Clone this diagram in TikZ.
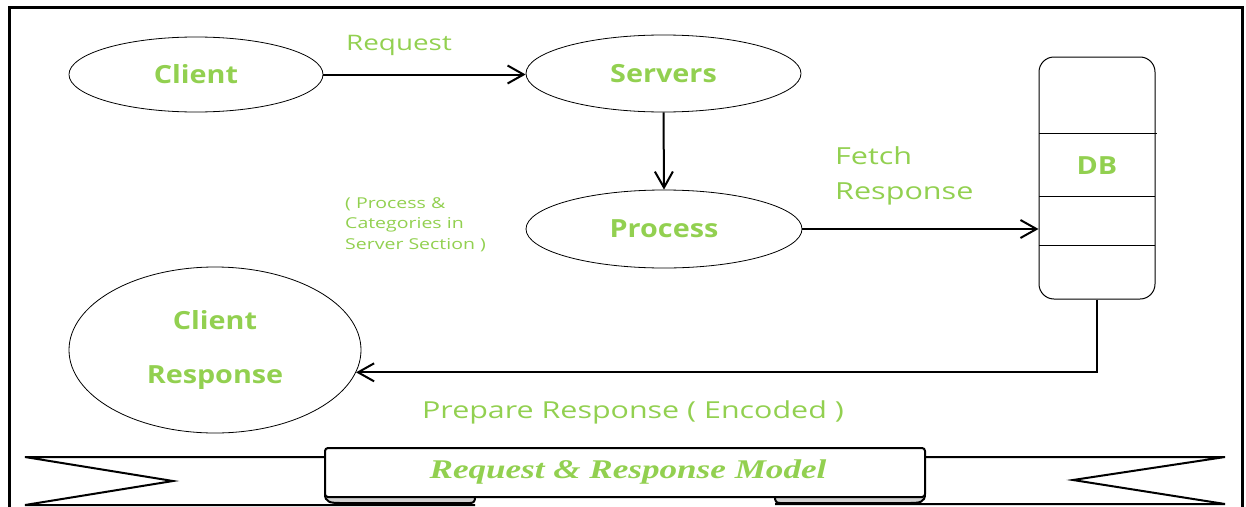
\documentclass[tikz,border=0pt]{standalone}
\usepackage{fontspec}
\setmainfont{Open Sans}[FakeStretch=1.3]
\newfontfamily\boldf{Open Sans}[FakeStretch=1.15]
\newfontfamily\titlefont{Liberation Serif}[FakeStretch=1.3]
\usetikzlibrary{shapes.geometric,arrows.meta}
\definecolor{grn}{HTML}{92D050}
\begin{document}
\begin{tikzpicture}[x=1pt,y=-1pt,
  oval/.style={draw, ellipse, line width=0.8pt, inner sep=0pt, text=grn,
    font=\boldf\fontsize{25}{30}\selectfont\bfseries},
  conn/.style={line width=2pt, -{Straight Barb[length=16pt,width=18pt,line width=2pt]}},
  lbl/.style={text=grn, font=\fontsize{22}{25}\selectfont, inner sep=0pt},
  rib/.style={line width=2pt, line join=miter},
]
\useasboundingbox (0,0) rectangle (1246,506);
\draw[line width=3pt] (9,7) rectangle (1242,540);

% nodes
\node[oval, minimum width=254pt, minimum height=75pt] (client) at (196,74.5) {Client};
\node[oval, minimum width=275pt, minimum height=77pt] (servers) at (663.5,73.5) {Servers};
\node[oval, minimum width=276pt, minimum height=78pt] (process) at (664,229) {Process};
\node[oval, minimum width=292pt, minimum height=166pt, align=center] (cresp) at (215,350)
  {Client\\[24pt]Response};

\node[draw, rounded corners=15pt, line width=1pt, minimum width=116pt, minimum height=242pt,
  inner sep=0pt] (db) at (1097,178) {};
\draw[line width=1pt] (1039,133) -- (1157,133);
\draw[line width=1pt] (1039,196) -- (1155,196);
\draw[line width=1pt] (1039,245) -- (1155,245);
\node[text=grn, font=\boldf\fontsize{25}{30}\selectfont\bfseries, inner sep=0pt] (dbl) at (1097,166) {DB};

% connectors
\draw[conn] (client.east) -- (client.east -| servers.west);
\draw[conn] (servers.south) -- (process.north);
\draw[conn] (process.east) -- (process.east -| db.west);
\draw[conn] (db.south) |- (cresp.-9.7);

% labels
\node[lbl, font=\fontsize{21.4}{25}\selectfont] (req) at (399,45) {Request};
\node[lbl, anchor=west, align=left, font=\fontsize{23.5}{35}\selectfont] (fetch) at (835,176) {Fetch\\Response};
\node[lbl, anchor=north west, align=left, font=\fontsize{15}{20.5}\selectfont] (note) at (345,197)
  {( Process \&\\Categories in\\Server Section )};
\node[lbl, font=\fontsize{23.4}{28}\selectfont] (prep) at (633,412) {Prepare Response ( Encoded )};

% ribbon tails
\draw[rib] (325,457) -- (25,457) -- (173,481) -- (25,505) -- (475,505);
\draw[rib] (925,457) -- (1225,457) -- (1073,480) -- (1225,504) -- (775,504);
% folds
\draw[rib, fill=gray!35] (325,494) .. controls (325,502) and (330,503) .. (340,503) -- (470,503)
  .. controls (474,503) and (475,501) .. (475,497);
\draw[rib, fill=gray!35] (775,497) .. controls (775,501) and (776,503) .. (780,503) -- (910,503)
  .. controls (920,503) and (925,502) .. (925,494);
% banner
\draw[rib, fill=white, rounded corners=3pt] (325,448) rectangle (925,497);
\node[text=grn, font=\titlefont\fontsize{27}{30}\selectfont\bfseries\itshape, inner sep=0pt] (title) at (628,472)
  {Request \& Response Model};
\end{tikzpicture}
\end{document}
